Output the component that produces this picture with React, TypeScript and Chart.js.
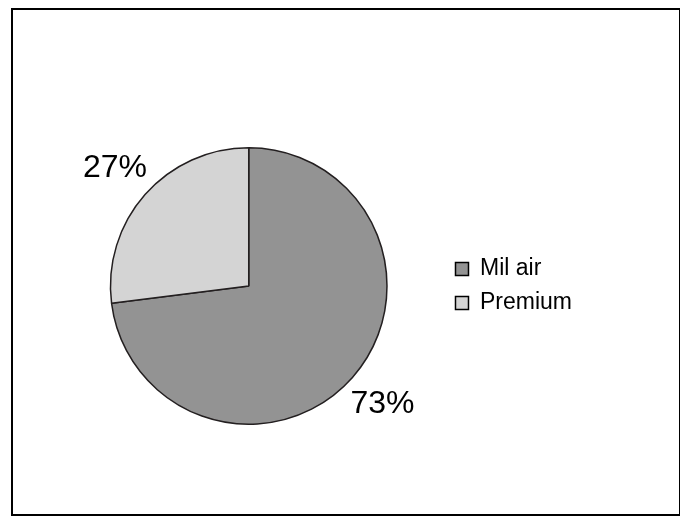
import React, { useEffect, useRef } from "react";
import { Chart, registerables } from "chart.js";

Chart.register(...registerables);

const categories = ["Mil air", "Premium"];
const shares = [73, 27];
const sliceColors = ["#939393", "#d4d4d4"];

const pctLabels = {
  id: "pctLabels",
  afterDatasetsDraw(chart: any) {
    const ctx = chart.ctx;
    const meta = chart.getDatasetMeta(0);
    ctx.save();
    ctx.font = "32px 'Liberation Sans', Arial, sans-serif";
    ctx.fillStyle = "#000";
    ctx.textAlign = "center";
    ctx.textBaseline = "middle";
    meta.data.forEach((arc: any, i: number) => {
      const { x, y, startAngle, endAngle, outerRadius } = arc.getProps(
        ["x", "y", "startAngle", "endAngle", "outerRadius"],
        true
      );
      const mid = (startAngle + endAngle) / 2;
      const r = outerRadius * 1.29;
      ctx.fillText(shares[i] + "%", x + Math.cos(mid) * r, y + Math.sin(mid) * r);
    });
    ctx.restore();
  },
};

export default function App() {
  const ref = useRef<HTMLCanvasElement | null>(null);
  useEffect(() => {
    if (!ref.current) return;
    const chart = new Chart(ref.current, {
      type: "pie",
      data: {
        labels: categories,
        datasets: [
          {
            data: shares,
            backgroundColor: sliceColors,
            borderColor: "#231f20",
            borderWidth: 1.5,
          },
        ],
      },
      options: {
        animation: false,
        responsive: false,
        maintainAspectRatio: false,
        layout: { padding: { left: 40, top: 137, bottom: 89, right: 97 } },
        plugins: {
          tooltip: { enabled: false },
          legend: {
            position: "right",
            align: "center",
            labels: {
              color: "#000",
              font: { size: 23, family: "'Liberation Sans', Arial, sans-serif" },
              boxWidth: 13,
              boxHeight: 13,
              padding: 11,
              generateLabels: (c: any) =>
                categories.map((t, i) => ({
                  text: t,
                  fillStyle: sliceColors[i],
                  strokeStyle: "#000",
                  lineWidth: 1.5,
                  hidden: false,
                  index: i,
                  datasetIndex: 0,
                })),
            },
          },
        },
      },
      plugins: [pctLabels],
    });
    return () => chart.destroy();
  }, []);
  return (
    <div
      style={{
        width: 666,
        height: 504,
        border: "2px solid #000",
        marginLeft: 3,
        background: "#fff",
      }}
    >
      <canvas ref={ref} width={666} height={504} style={{ display: "block" }} />
    </div>
  );
}
